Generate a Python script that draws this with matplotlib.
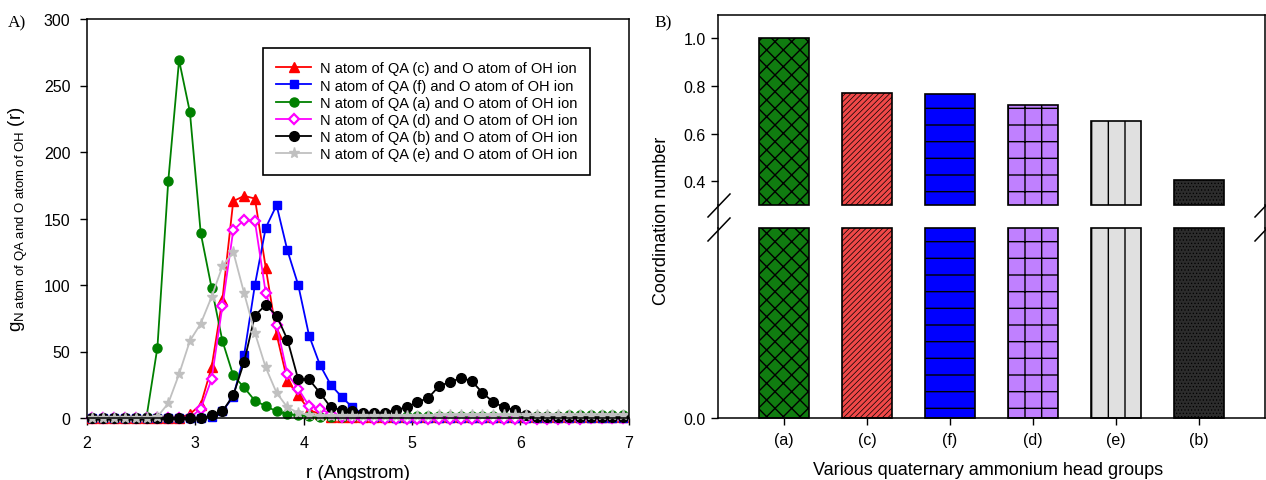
import numpy as np
import matplotlib
matplotlib.use("Agg")
import matplotlib.pyplot as plt
from matplotlib.lines import Line2D

plt.rcParams['font.family'] = ['Liberation Sans', 'DejaVu Sans']
plt.rcParams['mathtext.fontset'] = 'custom'
plt.rcParams['mathtext.rm'] = 'Liberation Sans'
plt.rcParams['mathtext.it'] = 'Liberation Sans:italic'
plt.rcParams['hatch.linewidth'] = 1.0

# ---------------- data: panel A (RDF) ----------------
r = [2.05, 2.15, 2.25, 2.35, 2.45, 2.55, 2.65, 2.75, 2.85, 2.95,
     3.05, 3.15, 3.25, 3.35, 3.45, 3.55, 3.65, 3.75, 3.85, 3.95,
     4.05, 4.15, 4.25, 4.35, 4.45, 4.55, 4.65, 4.75, 4.85, 4.95,
     5.05, 5.15, 5.25, 5.35, 5.45, 5.55, 5.65, 5.75, 5.85, 5.95,
     6.05, 6.15, 6.25, 6.35, 6.45, 6.55, 6.65, 6.75, 6.85, 6.95]

g_c = [0, 0, 0, 0, 0, 0, 0, 0, 0, 3,
       10, 38, 89, 163, 167, 165, 113, 63, 28, 17,
       6, 3, 1, 0.5, 0.5, 0.5, 0.5, 0.5, 0.5, 0.5,
       0.5, 0.5, 0.5, 0.5, 0.5, 0.5, 0.5, 0.5, 0.5, 0.5,
       0.5, 0.5, 0.5, 0.5, 0.5, 0.5, 0.5, 0.5, 0.5, 0.5]
g_f = [0, 0, 0, 0, 0, 0, 0, 0, 0, 0,
       0, 1, 5, 16, 47, 100, 143, 160, 126, 100,
       62, 40, 25, 16, 8, 3, 1, 0.5, 0, 0,
       0, 0, 0, 0, 0, 0, 0, 0, 0, 0,
       0, 0, 0, 0, 0, 0, 0, 0, 0, 0]
g_a = [0, 0, 0, 0, 0, 1, 53, 178, 269, 230,
       139, 98, 58, 32, 23, 13, 9, 5, 3, 2,
       1.5, 1, 1, 1, 1, 1, 1, 1, 1, 1.5,
       1.5, 1.5, 1.5, 1.5, 1.5, 1.5, 1.5, 1.5, 1.5, 1.5,
       1.5, 1.5, 1.5, 1.5, 2, 2, 2, 2, 2, 2]
g_d = [0, 0, 0, 0, 0, 0, 0, 0, 0, 0,
       7, 29, 84, 141, 149, 148, 94, 70, 33, 22,
       9, 7, 3, 1, 0, -0.5, -1, -1, -1, -1,
       -1, -1, -1, -1, -1, -1, -1, -1, -1, -1,
       -1, -1, -1, -1, -0.5, -0.5, 0, 0, 0, 0]
g_b = [0, 0, 0, 0, 0, 0, 0, 0, 0, 0,
       0, 2, 5, 17, 42, 77, 85, 77, 59, 29,
       29, 19, 8, 6, 5, 4, 4, 4, 6, 8,
       12, 15, 24, 27, 30, 28, 19, 12, 8, 6,
       2, 1, 0.5, 0.5, 0.5, 0.5, 0.5, 0.5, 0.5, 0.5]
g_e = [0, 0, 0, 0, 0, 0, 1, 11, 33, 58,
       71, 91, 114, 125, 94, 64, 38, 19, 8, 4,
       2, 1.5, 1.5, 1.5, 1.5, 1.5, 1.5, 1.5, 1.5, 1.5,
       1.5, 1.5, 2, 2, 2, 2, 2, 2, 2, 2,
       2, 2, 2, 2, 2, 2, 2, 2, 2, 2]

series_labels = ['N atom of QA (c) and O atom of OH ion',
                 'N atom of QA (f) and O atom of OH ion',
                 'N atom of QA (a) and O atom of OH ion',
                 'N atom of QA (d) and O atom of OH ion',
                 'N atom of QA (b) and O atom of OH ion',
                 'N atom of QA (e) and O atom of OH ion']

# ---------------- data: panel B (coordination number) ----------------
groups = ['(a)', '(c)', '(f)', '(d)', '(e)', '(b)']
coord = [1.0, 0.772, 0.765, 0.72, 0.655, 0.407]
break_low, break_high = 0.3, 0.3   # lower panel top / upper panel bottom

# ---------------- figure ----------------
W, H = 1266, 481
fig = plt.figure(figsize=(W / 100, H / 100), dpi=100)

def fx(px):
    return px / W

def fy(py):
    return 1 - py / H

# Panel A
axA = fig.add_axes([fx(87), fy(419), fx(628.6) - fx(87), fy(20) - fy(419)])
styles = [
    dict(color='#ff0000', marker='^', mfc='#ff0000', mec='#ff0000'),
    dict(color='#0000ff', marker='s', mfc='#0000ff', mec='#0000ff'),
    dict(color='#008000', marker='o', mfc='#008000', mec='#008000'),
    dict(color='#ff00ff', marker='D', mfc='white', mec='#ff00ff', mew=1.6),
    dict(color='#000000', marker='o', mfc='#000000', mec='#000000'),
    dict(color='#c0c0c0', marker='*', mfc='#c0c0c0', mec='#c0c0c0'),
]
sizes = [6.5, 6, 6.5, 5.5, 7, 8]
for ys, st, lab, ms in zip([g_c, g_f, g_a, g_d, g_b, g_e], styles, series_labels, sizes):
    axA.plot(r, ys, lw=1.3, ms=ms, label=lab, clip_on=False, **st)

axA.set_xlim(2, 7)
axA.set_ylim(0, 300)
axA.set_xticks([2, 3, 4, 5, 6, 7])
axA.set_yticks([0, 50, 100, 150, 200, 250, 300])
axA.tick_params(direction='out', length=5, width=1, labelsize=11.5, pad=7)
for s in axA.spines.values():
    s.set_linewidth(1.1)
axA.set_xlabel('r (Angstrom)', fontsize=13.5)
axA.xaxis.set_label_coords(0.5, -0.115)
axA.set_ylabel(r'$\mathregular{g_{N\ atom\ of\ QA\ and\ O\ atom\ of\ OH}}$ (r)', fontsize=13.5)
axA.yaxis.set_label_coords(-0.105, 0.5)
leg = axA.legend(loc='upper right', bbox_to_anchor=(0.943, 0.945), fontsize=10.5,
                 frameon=True, fancybox=False, framealpha=1, edgecolor='black',
                 borderpad=0.9, labelspacing=0.22, handlelength=2.4, handletextpad=0.6)
leg.get_frame().set_linewidth(1.2)
fig.text(fx(17), fy(23), 'A)', family='Liberation Serif', fontsize=12.5, ha='center', va='center')

# Panel B (broken axis)
left_px, right_px = 718, 1265
axU = fig.add_axes([fx(left_px), fy(206), fx(right_px) - fx(left_px), fy(15.7) - fy(206)])
axL = fig.add_axes([fx(left_px), fy(419), fx(right_px) - fx(left_px), fy(229) - fy(419)])

facecolors = ['#107c10', '#f04848', '#0000ff', '#c080ff', '#e0e0e0', '#2c2c2c']
hatches = ['xx', '//////', '-', '+', '|', '.....']
hatch_lw = [1.0, 0.5, 1.0, 1.0, 1.0, 0.5]
xpos = np.arange(len(groups))

upper_heights = [v - break_high for v in coord]
lower_heights = [min(v, break_low) for v in coord]
for ax, heights, bottom in ((axU, upper_heights, break_high), (axL, lower_heights, 0.0)):
    bars = ax.bar(xpos, heights, bottom=bottom, width=0.6, color=facecolors,
                  edgecolor='black', linewidth=1.2, clip_on=False)
    for b, h, hl in zip(bars, hatches, hatch_lw):
        b.set_hatch(h)
        if hasattr(b, 'set_hatch_linewidth'):
            b.set_hatch_linewidth(hl)
    ax.set_xlim(-0.8, 5.8)
    for s in ax.spines.values():
        s.set_linewidth(1.1)
    ax.tick_params(direction='out', length=5, width=1, labelsize=11.5)

axU.set_ylim(break_high, 1.1)
axU.set_yticks([0.4, 0.6, 0.8, 1.0])
axU.set_yticklabels(['0.4', '0.6', '0.8', '1.0'])
axU.spines['bottom'].set_visible(False)
axU.tick_params(axis='x', bottom=False, labelbottom=False)
axU.tick_params(axis='y', pad=4)

axL.set_ylim(0, break_low)
axL.set_yticks([0.0])
axL.set_yticklabels(['0.0'])
axL.spines['top'].set_visible(False)
axL.set_xticks(xpos)
axL.set_xticklabels(groups)
axL.tick_params(axis='y', pad=4)
axL.tick_params(axis='x', pad=5)

# spine continuation across the gap and break marks
for xp in (left_px, right_px):
    fig.add_artist(Line2D([fx(xp), fx(xp)], [fy(206), fy(229)], color='black', lw=1.1,
                          transform=fig.transFigure))
    for yc in (207, 231):
        fig.add_artist(Line2D([fx(xp - 10), fx(xp + 12)], [fy(yc + 11), fy(yc - 12)],
                              color='black', lw=1.1, transform=fig.transFigure))

fig.text(fx(662), fy(221), 'Coordination number', rotation=90, fontsize=13,
         ha='center', va='center')
fig.text(fx(988), fy(462), 'Various quaternary ammonium head groups', fontsize=13,
         ha='center', va='top')
fig.text(fx(663), fy(23), 'B)', family='Liberation Serif', fontsize=12.5, ha='center', va='center')

fig.savefig('out.png', dpi=100)
